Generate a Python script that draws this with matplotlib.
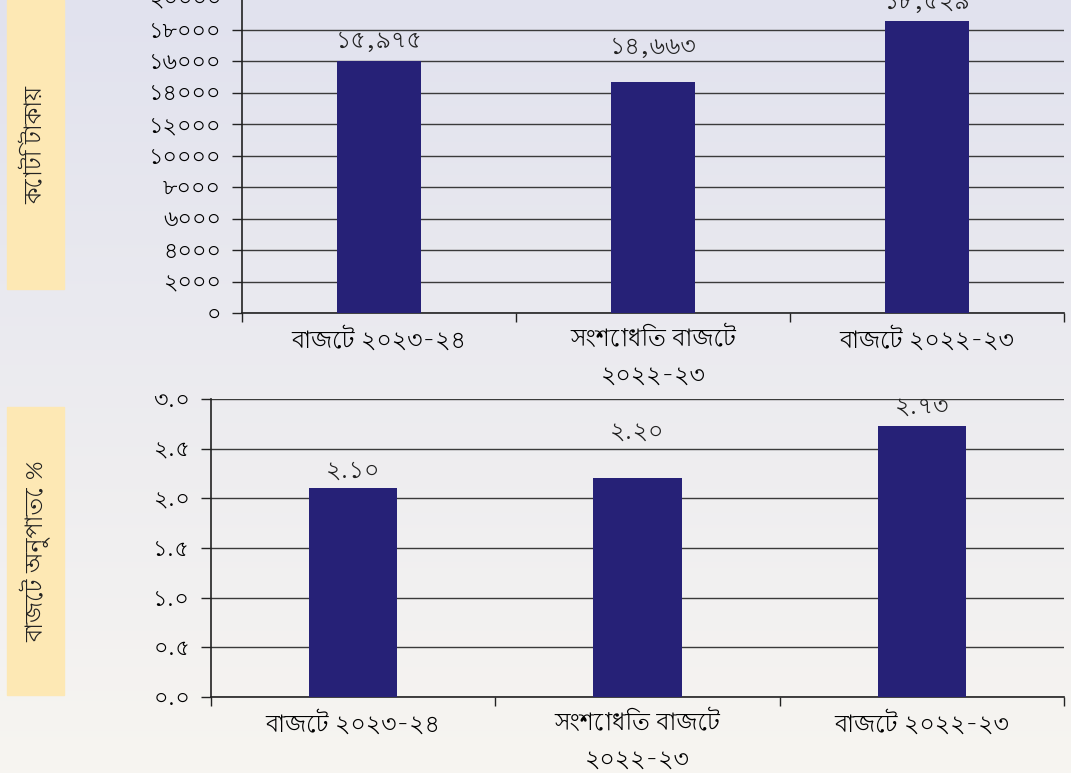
import numpy as np
import matplotlib
matplotlib.use("Agg")
import matplotlib.pyplot as plt
from matplotlib import font_manager, ft2font
from matplotlib.patches import Rectangle

# data
categories = ["বাজেট ২০২৩-২৪", "সংশোধিত বাজেট\n২০২২-২৩", "বাজেট ২০২২-২৩"]
crore_taka = [15975, 14663, 18529]
crore_labels = ["১৫,৯৭৫", "১৪,৬৬৩", "১৮,৫২৯"]
budget_pct = [2.10, 2.20, 2.73]
pct_labels = ["২.১০", "২.২০", "২.৭৩"]
top_ylabel = "কোটি টাকা\u09df"   # precomposed য় so the nukta stays on its letter
bottom_ylabel = "বাজেট অনুপাতে %"

BAR = "#262177"
BOX = "#fde8b4"
GRID = "#3a3a3a"

BN_DIGITS = str.maketrans("0123456789", "০১২৩৪৫৬৭৮৯")


def find_bengali_font():
    # collect installed fonts that have Bengali glyphs, prefer proportional ones
    found = []
    for f in font_manager.fontManager.ttflist:
        try:
            ft = ft2font.FT2Font(f.fname)
            if ord("ব") in ft.get_charmap():
                found.append(f.name)
        except Exception:
            pass
    if not found:
        return None

    def rank(name):
        n = name.lower()
        score = 0
        if "bengali" in n or "bangla" in n:
            score -= 10
        if "lohit" in n or "mukti" in n or "kalpurush" in n or "solaiman" in n:
            score -= 8
        if "sans" in n:
            score -= 2
        if "mono" in n or "code" in n:
            score += 20
        return score

    return sorted(set(found), key=rank)[0]


bn_font = find_bengali_font()
families = [bn_font, "DejaVu Sans"] if bn_font else ["DejaVu Sans"]
plt.rcParams["font.family"] = families

W, H = 1071, 773
fig = plt.figure(figsize=(W / 100, H / 100), dpi=100)

# soft gradient background
bg = fig.add_axes([0, 0, 1, 1], zorder=-10)
grad = np.linspace(0, 1, 256).reshape(-1, 1)
top_col = np.array([225, 226, 238]) / 255
bot_col = np.array([247, 245, 241]) / 255
img = top_col + (bot_col - top_col) * grad[:, :, None]
bg.imshow(img, aspect="auto", extent=[0, 1, 0, 1])
bg.axis("off")


def fx(px):
    return px / W


def fy(py):
    return 1 - py / H


def bar_panel(rect, values, labels, ylim, yticks, fmt, pads):
    ax = fig.add_axes(rect)
    ax.patch.set_alpha(0)
    x = np.arange(len(values))
    ax.bar(x, values, width=0.31, color=BAR, zorder=3)
    ax.set_xlim(-0.5, len(values) - 0.5)
    ax.set_ylim(*ylim)
    ax.set_yticks(yticks)
    ax.set_yticklabels([fmt(v).translate(BN_DIGITS) for v in yticks], fontsize=16)
    ax.yaxis.grid(True, color=GRID, linewidth=1.0, zorder=1)
    ax.set_axisbelow(True)
    # boundaries as major ticks, names as minor
    ax.set_xticks(np.arange(-0.5, len(values)))
    ax.set_xticklabels([])
    ax.set_xticks(x, minor=True)
    ax.set_xticklabels(categories, minor=True, fontsize=17, linespacing=1.65)
    ax.tick_params(axis="x", which="minor", length=0, pad=10)
    ax.tick_params(axis="x", which="major", length=6.5, width=1, color="#222222")
    ax.tick_params(axis="y", length=7, width=1, color="#222222", pad=8)
    for s in ("top", "right"):
        ax.spines[s].set_visible(False)
    for s in ("left", "bottom"):
        ax.spines[s].set_color("#222222")
        ax.spines[s].set_linewidth(1.2)
    for xi, v, lab, pad in zip(x, values, labels, pads):
        ax.annotate(lab, (xi, v), xytext=(0, pad), textcoords="offset points",
                    ha="center", va="center", fontsize=17, color="#222222")
    return ax


bar_panel([fx(242), fy(313), fx(1064) - fx(242), fy(-2) - fy(313)],
          crore_taka, crore_labels, (0, 20000), list(range(0, 20001, 2000)),
          lambda v: f"{v}", pads=[15, 25, 14])

bar_panel([fx(211), fy(697), fx(1064) - fx(211), fy(399) - fy(697)],
          budget_pct, pct_labels, (0, 3.0), list(np.arange(0, 3.01, 0.5)),
          lambda v: f"{v:.1f}", pads=[13, 34, 14])

# yellow label boxes
for (y0, y1), label in [((0, 289), top_ylabel), ((407, 695), bottom_ylabel)]:
    fig.patches.append(Rectangle((fx(7), fy(y1)), fx(64) - fx(7), fy(y0) - fy(y1),
                                 transform=fig.transFigure, color=BOX, zorder=-5))
    fig.text(fx(36), (fy(y0) + fy(y1)) / 2, label, rotation=90, ha="center",
             va="center", fontsize=17, color="#222222")

fig.savefig("out.png", dpi=100)
